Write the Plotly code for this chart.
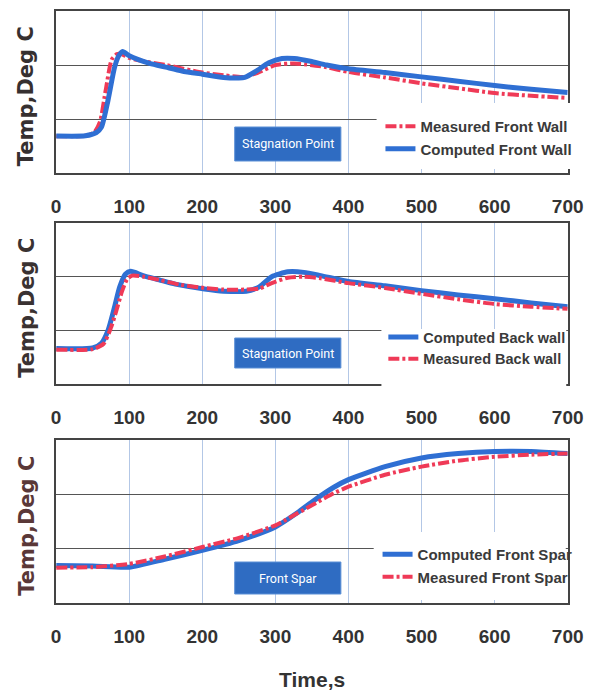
import plotly.graph_objects as go

W, H = 603, 697

# ---------------- data (normalised temperature, grid units) ----------------
ticks_x = [0, 100, 200, 300, 400, 500, 600, 700]
tick_text = ["0", "100", "200", "300", "400", "500", "600", "700"]

# Panel 1: front wall
t_cfw = [0, 40, 55, 62, 71, 80, 86, 91, 100, 128, 150, 172, 200, 229, 250, 258, 273, 291, 309, 326, 348, 370, 400, 450, 500, 550, 600, 650, 700]
v_cfw = [0.685, 0.69, 0.75, 0.85, 1.35, 1.96, 2.18, 2.25, 2.17, 2.03, 1.96, 1.89, 1.83, 1.77, 1.76, 1.77, 1.88, 2.04, 2.12, 2.12, 2.07, 2.0, 1.93, 1.86, 1.78, 1.70, 1.62, 1.55, 1.49]
t_mfw = [0, 40, 52, 60, 68, 76, 83, 90, 100, 128, 150, 200, 229, 256, 275, 300, 326, 348, 370, 400, 450, 500, 550, 600, 650, 700]
v_mfw = [0.68, 0.69, 0.75, 0.95, 1.55, 2.1, 2.2, 2.2, 2.13, 2.05, 2.0, 1.86, 1.81, 1.78, 1.85, 2.0, 2.03, 2.0, 1.96, 1.87, 1.77, 1.66, 1.57, 1.48, 1.43, 1.39]

# Panel 2: back wall
t_cbw = [0, 50, 62, 71, 80, 87, 95, 102, 119, 141, 163, 203, 229, 260, 278, 295, 317, 339, 362, 400, 450, 500, 550, 600, 650, 700]
v_cbw = [0.66, 0.67, 0.76, 1.0, 1.44, 1.81, 2.05, 2.10, 2.02, 1.94, 1.86, 1.77, 1.73, 1.73, 1.81, 2.0, 2.09, 2.08, 2.02, 1.91, 1.83, 1.74, 1.66, 1.59, 1.51, 1.44]
t_mbw = [0, 50, 65, 75, 82, 90, 97, 104, 120, 141, 170, 203, 229, 260, 278, 295, 317, 339, 362, 400, 450, 500, 550, 600, 650, 700]
v_mbw = [0.64, 0.65, 0.75, 1.05, 1.35, 1.72, 1.95, 2.02, 2.0, 1.94, 1.85, 1.79, 1.76, 1.76, 1.78, 1.88, 1.98, 2.0, 1.97, 1.88, 1.79, 1.68, 1.58, 1.49, 1.44, 1.40]

# Panel 3: front spar
t_cfs = [0, 50, 100, 150, 200, 250, 300, 330, 350, 380, 400, 450, 500, 550, 600, 650, 700]
v_cfs = [0.69, 0.68, 0.66, 0.81, 0.97, 1.15, 1.40, 1.66, 1.86, 2.13, 2.27, 2.51, 2.67, 2.75, 2.79, 2.79, 2.75]
t_mfs = [0, 50, 100, 150, 200, 250, 300, 330, 350, 380, 400, 450, 500, 550, 600, 650, 700]
v_mfs = [0.65, 0.66, 0.72, 0.86, 1.03, 1.20, 1.43, 1.65, 1.80, 2.02, 2.14, 2.36, 2.51, 2.62, 2.69, 2.73, 2.75]

# ---------------- styling helpers ----------------
BLUE = "#2f6fd3"
RED = "#ef3a57"
TXT = "#333333"
px = lambda x: x / W          # screen pixel -> paper fraction
py = lambda y: 1 - y / H

fig = go.Figure()

def computed(t, v, name, ax, leg):
    return go.Scatter(x=t, y=v, name=name, mode="lines", xaxis=ax[0], yaxis=ax[1],
                      line=dict(color=BLUE, width=5, shape="spline", smoothing=0.6),
                      legend=leg)

def measured(t, v, name, ax, leg):
    return go.Scatter(x=t, y=v, name=name, mode="lines", xaxis=ax[0], yaxis=ax[1],
                      line=dict(color=RED, width=4, shape="spline", smoothing=0.6,
                                dash="11px,3px,3px,3px"),
                      legend=leg)

fig.add_trace(measured(t_mfw, v_mfw, "Measured Front Wall", ("x", "y"), "legend"))
fig.add_trace(computed(t_cfw, v_cfw, "Computed Front Wall", ("x", "y"), "legend"))
fig.add_trace(computed(t_cbw, v_cbw, "Computed Back wall", ("x2", "y2"), "legend2"))
fig.add_trace(measured(t_mbw, v_mbw, "Measured Back wall", ("x2", "y2"), "legend2"))
fig.add_trace(computed(t_cfs, v_cfs, "Computed Front Spar", ("x3", "y3"), "legend3"))
fig.add_trace(measured(t_mfs, v_mfs, "Measured Front Spar", ("x3", "y3"), "legend3"))

panels = [(11, 173), (223, 384), (440, 603)]
xdom = [px(53), px(583)]

def xaxis(anchor, dom):
    return dict(domain=dom, anchor=anchor, range=[0, 700], tickvals=ticks_x, ticktext=tick_text,
                showgrid=True, gridcolor="#b3c7e6", gridwidth=1, zeroline=False,
                showline=True, linecolor="#444444", linewidth=1.5, mirror=True,
                ticks="", ticklabelstandoff=15,
                tickfont=dict(family="Liberation Sans, Arial", size=19, color=TXT, weight="bold"))

def yaxis(anchor, dom):
    return dict(domain=dom, anchor=anchor, range=[0, 3], tickvals=[1, 2], showticklabels=False,
                showgrid=True, gridcolor="#555555", gridwidth=1, zeroline=False,
                showline=True, linecolor="#444444", linewidth=1.5, mirror=True, ticks="")

layout = dict(width=W, height=H, margin=dict(l=0, r=0, t=0, b=0),
              paper_bgcolor="white", plot_bgcolor="white", showlegend=True)
for i, (top, bot) in enumerate(panels):
    sfx = "" if i == 0 else str(i + 1)
    layout["xaxis" + sfx] = xaxis("y" + sfx, xdom)
    layout["yaxis" + sfx] = yaxis("x" + sfx, [py(bot), py(top)])

for key, xl, ytop, fs in [("legend", 389, 110, 15), ("legend2", 392, 321, 14.5), ("legend3", 386, 538, 15)]:
    layout[key] = dict(x=px(xl), y=py(ytop), xanchor="left", yanchor="top",
                       bgcolor="rgba(0,0,0,0)", itemwidth=30,
                       font=dict(family="Liberation Sans, Arial", size=fs, color="#3a3a3a", weight="bold"),
                       tracegroupgap=0, traceorder="normal")

shapes = []
# white areas behind the legends
for (x0, y0, x1, y1) in [(385, 103, 592, 169), (390, 329, 581.5, 387), (382, 532, 581, 600)]:
    shapes.append(dict(type="rect", xref="paper", yref="paper", x0=px(x0), x1=px(x1),
                       y0=py(y1), y1=py(y0), fillcolor="white", line=dict(width=0), layer="above"))
# blue label boxes
boxes = [(238, 127, 348, 161, "Stagnation Point"), (238, 338, 348, 368, "Stagnation Point"),
         (238, 562, 348, 594, "Front Spar")]
annotations = []
for (x0, y0, x1, y1, label) in boxes:
    shapes.append(dict(type="rect", xref="paper", yref="paper", x0=px(x0), x1=px(x1),
                       y0=py(y1), y1=py(y0), fillcolor="#2f6cc2",
                       line=dict(color="#5a8fd6", width=1), layer="above"))
    annotations.append(dict(x=px((x0 + x1) / 2), y=py((y0 + y1) / 2), xref="paper", yref="paper",
                            text=label, showarrow=False, xanchor="center", yanchor="middle",
                            font=dict(family="Roboto, Noto Sans", size=12.5, color="white")))

# y-axis titles
for (top, bot), col in zip(panels, ["#363030", "#3a3232", "#5a3838"]):
    annotations.append(dict(x=px(22), y=py((top + bot) / 2 + 4), xref="paper", yref="paper",
                            text="Temp,Deg C", textangle=-90, showarrow=False,
                            xanchor="center", yanchor="middle",
                            font=dict(family="DejaVu Sans", size=21, color=col, weight="bold")))
# x-axis title
annotations.append(dict(x=px(318), y=py(679), xref="paper", yref="paper", text="Time,s",
                        showarrow=False, xanchor="center", yanchor="middle",
                        font=dict(family="Liberation Sans, Arial", size=21, color=TXT, weight="bold")))

layout["shapes"] = shapes
layout["annotations"] = annotations
fig.update_layout(**layout)

fig.write_html("out.html", config=dict(displayModeBar=False),
               post_script="document.body.style.margin='0';document.body.style.overflow='hidden';")
